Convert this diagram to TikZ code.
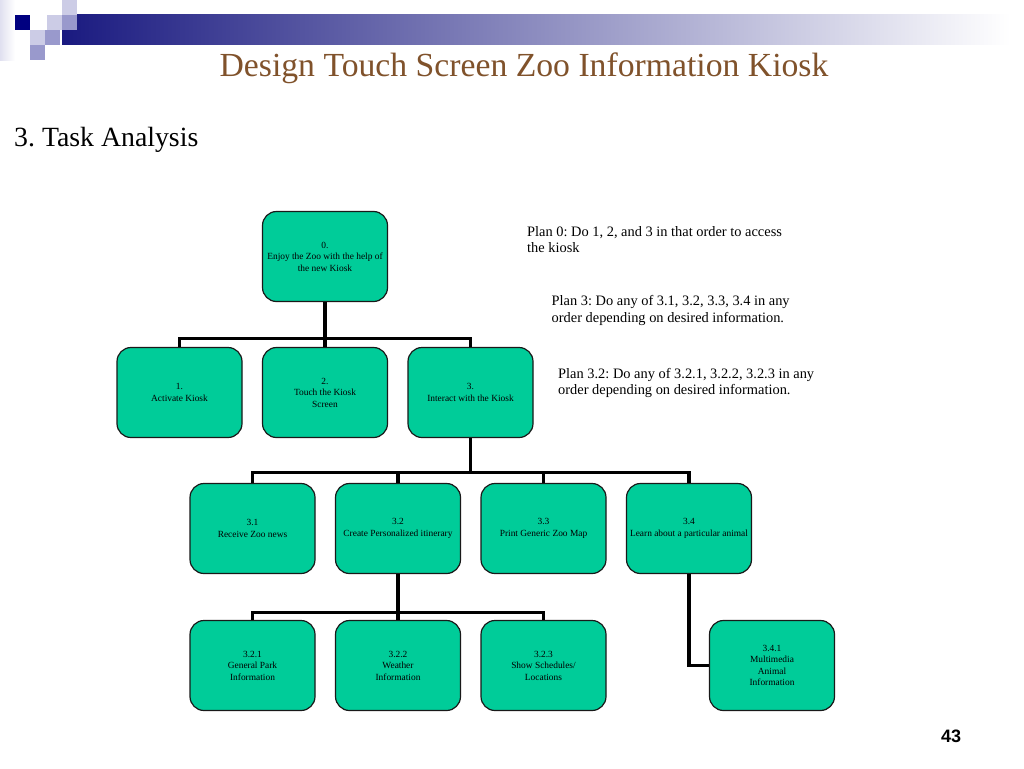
\documentclass[tikz,border=0pt]{standalone}
\usepackage{fontspec}
\setmainfont{Liberation Serif}
\newfontfamily\numfont{Liberation Sans}
\usepackage{tikz}
\usetikzlibrary{positioning}
\frenchspacing
\definecolor{zoogreen}{RGB}{0,204,153}
\definecolor{titlebrown}{RGB}{128,82,43}
\definecolor{barblue}{RGB}{26,26,128}
\definecolor{sqdark}{RGB}{0,0,128}
\definecolor{sqmid}{RGB}{153,153,204}
\definecolor{sqlight}{RGB}{204,204,230}
\tikzstyle{link} = [line width=3.1pt]
\tikzstyle{task} = [rectangle, rounded corners=14pt, draw=black!90, line width=1.2pt, fill=zoogreen, minimum width=125pt, minimum height=90pt, align=center, inner sep=1pt, font=\fontsize{9.4}{11.5}\selectfont]
\tikzstyle{plan} = [anchor=north west, align=left, inner sep=0pt, font=\fontsize{14.4}{16.5}\selectfont]

\begin{document}
\begin{tikzpicture}[x=1pt, y=-1pt, node distance=136pt]
	\useasboundingbox (0,0) rectangle (1024,768);
	\fill [white] (0,0) rectangle (1024,768);
	
	\shade [left color=sqlight!60, right color=white] (0,0) rectangle (15,60);
	\shade [left color=barblue, right color=white] (62,15) rectangle (1010,45);
	\fill [sqlight] (62,0) rectangle (77,15);
	\fill [sqlight] (47,15) rectangle (62,30);
	\fill [sqmid] (62,15) rectangle (77,30);
	\fill [sqdark] (15,15) rectangle (30,30);
	\fill [sqlight] (30,30) rectangle (45,45);
	\fill [sqmid] (45,30) rectangle (60,45);
	\fill [sqmid] (30,45) rectangle (45,60);
	
	\node (title) [anchor=base, text=titlebrown, font=\fontsize{33.7}{36}\selectfont] at (524,76) {Design Touch Screen Zoo Information Kiosk};
	\node (heading) [anchor=base west, inner sep=0pt, font=\fontsize{27.8}{30}\selectfont] at (14,146) {3. Task Analysis};
	\node (page) [font=\numfont\bfseries\fontsize{18}{20}\selectfont] at (951,736) {43};
	
	\node [task] (root) at (325,256.5) {0.\\Enjoy the Zoo with the help of\\the new Kiosk};
	\node [task] (touch) [below of=root] {2.\\Touch the Kiosk\\Screen};
	\node [task] (activate) [left of=touch, xshift=-9.5pt] {1.\\Activate Kiosk};
	\node [task] (interact) [right of=touch, xshift=9.5pt] {3.\\Interact with the Kiosk};
	
	\node [task] (news) [below of=activate, xshift=73pt] {3.1\\Receive Zoo news};
	\node [task] (itinerary) [right of=news, xshift=9.5pt] {3.2\\Create Personalized itinerary};
	\node [task] (map) [right of=itinerary, xshift=9.5pt] {3.3\\Print Generic Zoo Map};
	\node [task] (animal) [right of=map, xshift=9.5pt] {3.4\\Learn about a particular animal};
	
	\node [task] (park) [below of=news, yshift=-1pt] {3.2.1\\General Park\\Information};
	\node [task] (weather) [right of=park, xshift=9.5pt] {3.2.2\\Weather\\Information};
	\node [task] (shows) [right of=weather, xshift=9.5pt] {3.2.3\\Show Schedules/\\Locations};
	\node [task] (media) [below of=animal, xshift=83pt, yshift=-1pt] {3.4.1\\Multimedia\\Animal\\Information};
	
	\node [plan] (plan0) at (527,226) {Plan 0: Do 1, 2, and 3 in that order to access\\the kiosk};
	\node [plan] (plan3) at (551.5,295.5) {Plan 3: Do any of 3.1, 3.2, 3.3, 3.4 in any\\order depending on desired information.};
	\node [plan] (plan32) at (558,368) {Plan 3.2: Do any of 3.2.1, 3.2.2, 3.2.3 in any\\order depending on desired information.};
	
	\draw [link] (root) -- (touch);
	\draw [link] (root.south) -- ++(0,36) -| (activate);
	\draw [link] (root.south) -- ++(0,36) -| (interact);
	\draw [link] (interact.south) -- ++(0,34) -| (news);
	\draw [link] (interact.south) -- ++(0,34) -| (itinerary);
	\draw [link] (interact.south) -- ++(0,34) -| (map);
	\draw [link] (interact.south) -- ++(0,34) -| (animal);
	\draw [link] (itinerary.south) -- ++(0,38) -| (park);
	\draw [link] (itinerary) -- (weather);
	\draw [link] (itinerary.south) -- ++(0,38) -| (shows);
	\draw [link] (animal) |- (media);
\end{tikzpicture}
\end{document}
